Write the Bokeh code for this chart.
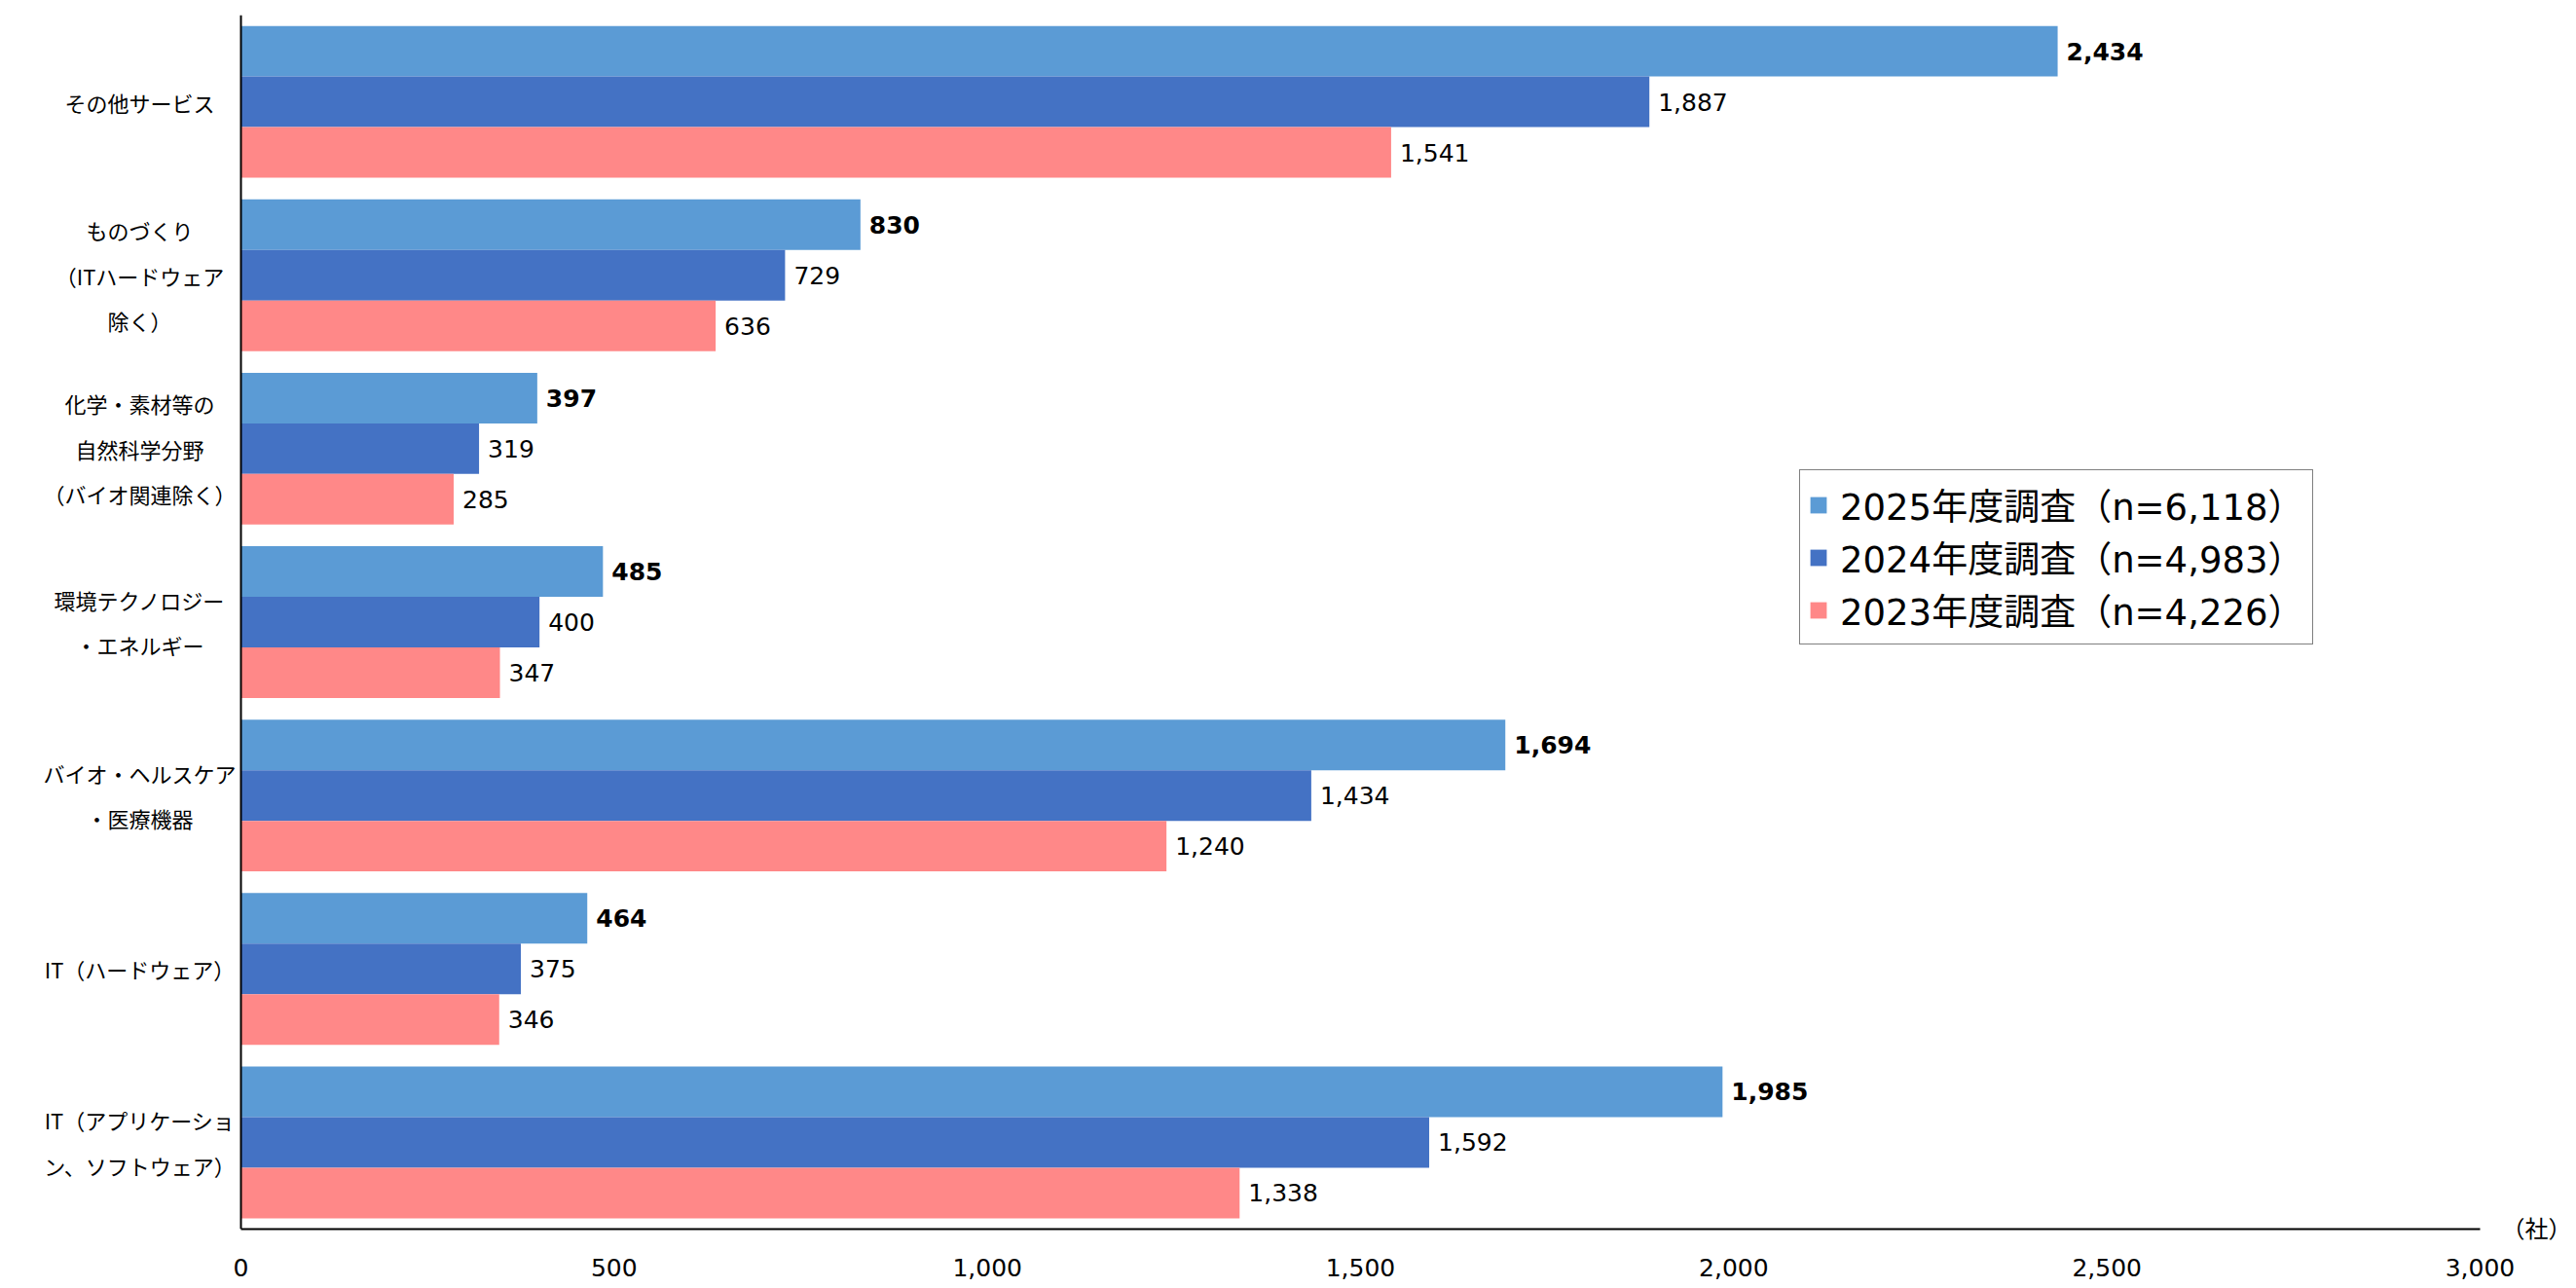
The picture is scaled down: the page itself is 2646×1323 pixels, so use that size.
from bokeh.plotting import figure
from bokeh.models import (ColumnDataSource, Range1d, Legend, LegendItem,
                          LinearAxis, NumeralTickFormatter, FixedTicker, Span)
from bokeh.transform import dodge
from bokeh.core.properties import value
from bokeh.embed import file_html
from bokeh.resources import INLINE

# ---- data (top to bottom as in the chart) ----
categories = [
    "その他サービス",
    "ものづくり\n（ITハードウェア\n除く）",
    "化学・素材等の\n自然科学分野\n（バイオ関連除く）",
    "環境テクノロジー\n・エネルギー",
    "バイオ・ヘルスケア\n・医療機器",
    "IT（ハードウェア）",
    "IT（アプリケーショ\nン、ソフトウェア）",
]
v2025 = [2434, 830, 397, 485, 1694, 464, 1985]
v2024 = [1887, 729, 319, 400, 1434, 375, 1592]
v2023 = [1541, 636, 285, 347, 1240, 346, 1338]
series_names = ["2025年度調査（n=6,118）", "2024年度調査（n=4,983）", "2023年度調査（n=4,226）"]
series_colors = ["#5B9BD5", "#4472C4", "#FF8888"]
x_ticks = [0, 500, 1000, 1500, 2000, 2500, 3000]
x_max = 3000
unit_label = "（社）"

NUM_FONT = "DejaVu Sans, Noto Sans CJK JP"
JP_FONT = "Noto Sans CJK JP"

n = len(categories)
pos = [n - 1 - i for i in range(n)]      # first category at the top
y_lo, y_hi = -0.5, n - 0.5

# frame spans the whole width on the left so category labels can be drawn as text
left_room = 247 * x_max / 2300.0

p = figure(width=2646, height=1323,
           y_range=Range1d(y_lo, y_hi),
           x_range=Range1d(-left_room, x_max),
           output_backend="svg", toolbar_location=None,
           min_border_left=0, min_border_right=99,
           min_border_top=15, min_border_bottom=61)

bar_h = 0.2917
offsets = [bar_h, 0.0, -bar_h]
values_all = [v2025, v2024, v2023]
renderers = []
for name, color, vals, off, bold in zip(series_names, series_colors, values_all, offsets,
                                         [True, False, False]):
    src = ColumnDataSource(dict(pos=pos, val=vals, lbl=[f"{v:,}" for v in vals]))
    r = p.hbar(y=dodge("pos", off), right="val", left=0,
               height=bar_h, source=src, fill_color=color, line_color=None)
    renderers.append(r)
    p.text(x="val", y=dodge("pos", off), text="lbl", source=src,
           x_offset=9, text_baseline="middle", text_align="left",
           text_font=value(NUM_FONT), text_font_size="25px",
           text_font_style="bold" if bold else "normal", text_color="#000000")

# category labels (centered multi-line, left of the value axis)
cat_src = ColumnDataSource(dict(cat=categories, pos=pos, x0=[0] * n))
p.text(x="x0", y="pos", text="cat", source=cat_src, x_offset=-104,
       text_align="center", text_baseline="middle",
       text_font=value(JP_FONT), text_font_size="22px", text_line_height=1.45,
       text_color="#000000")

# vertical axis line at x = 0
p.add_layout(Span(location=0, dimension="height", line_color="#000000", line_width=2))
p.yaxis.visible = False

legend = Legend(items=[LegendItem(label=s, renderers=[r]) for s, r in zip(series_names, renderers)],
                location=(1848, 600))
legend.border_line_color = "#000000"
legend.border_line_width = 1.5
legend.background_fill_color = "white"
legend.background_fill_alpha = 1
legend.label_text_font = NUM_FONT
legend.label_text_font_size = "37px"
legend.label_text_color = "#000000"
legend.glyph_width = 21
legend.glyph_height = 21
legend.label_standoff = 12
legend.padding = 8
legend.spacing = 0
legend.margin = 0
p.add_layout(legend)

p.xaxis.ticker = FixedTicker(ticks=x_ticks)
p.xaxis.bounds = (0, x_max)
p.xaxis.formatter = NumeralTickFormatter(format="0,0")
p.xaxis.major_tick_line_color = None
p.xaxis.minor_tick_line_color = None
p.xaxis.axis_line_color = "#000000"
p.xaxis.axis_line_width = 2
p.xaxis.major_label_text_font = NUM_FONT
p.xaxis.major_label_text_font_size = "25px"
p.xaxis.major_label_text_color = "#000000"
p.xaxis.major_label_standoff = 24

p.xgrid.grid_line_color = None
p.ygrid.grid_line_color = None
p.outline_line_color = None

# unit label "(社)" to the right of the value axis end, level with the axis line
unit_axis = LinearAxis(ticker=FixedTicker(ticks=[y_lo]),
                       major_label_overrides={y_lo: unit_label},
                       axis_line_color=None, major_tick_line_color=None,
                       minor_tick_line_color=None, major_label_standoff=16,
                       major_label_text_font=NUM_FONT, major_label_text_font_size="24px",
                       major_label_text_color="#000000")
p.add_layout(unit_axis, "right")

open("out.html", "w").write(file_html(p, INLINE))
